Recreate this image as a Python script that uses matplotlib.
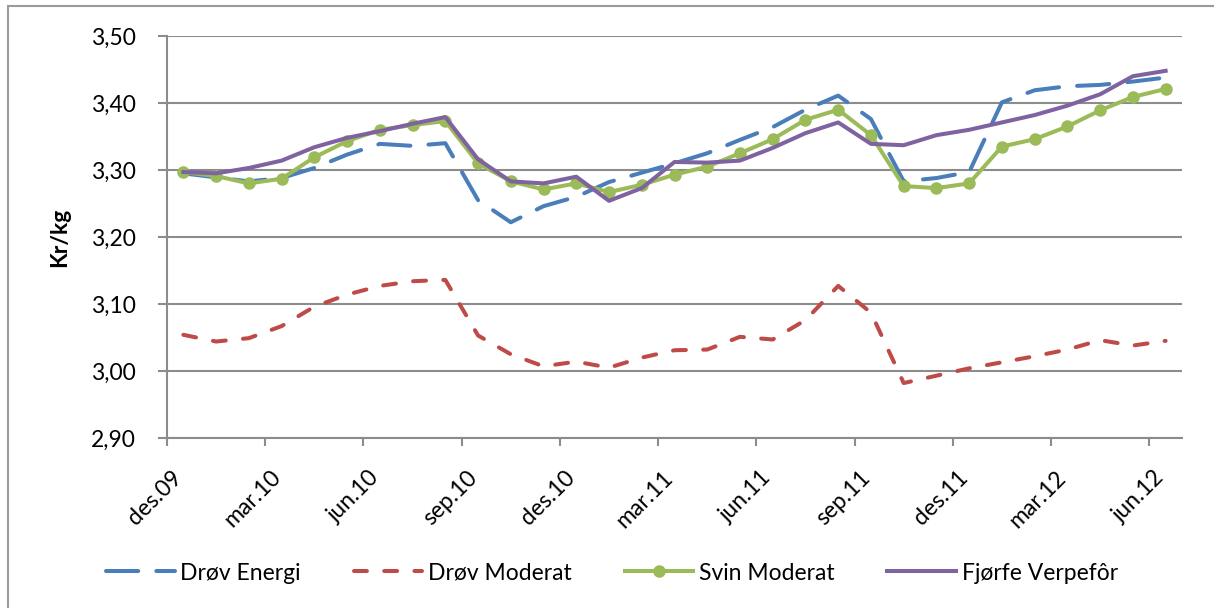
import matplotlib
matplotlib.use('Agg')
import matplotlib.pyplot as plt
import matplotlib.transforms as mtransforms
from matplotlib.patches import Rectangle

plt.rcParams['font.family'] = ['Lato', 'DejaVu Sans']

# monthly prices des.09 - jun.12 (31 months)
tick_labels = ['des.09', 'mar.10', 'jun.10', 'sep.10', 'des.10', 'mar.11',
               'jun.11', 'sep.11', 'des.11', 'mar.12', 'jun.12']

drov_energi = [3.295, 3.289, 3.283, 3.288, 3.303, 3.323, 3.339, 3.336, 3.340, 3.255,
               3.222, 3.246, 3.260, 3.282, 3.296, 3.310, 3.325, 3.345, 3.364, 3.390,
               3.411, 3.376, 3.283, 3.288, 3.297, 3.401, 3.419, 3.425, 3.427, 3.432,
               3.438]
drov_moderat = [3.054, 3.044, 3.049, 3.067, 3.096, 3.114, 3.127, 3.134, 3.136, 3.053,
                3.025, 3.007, 3.014, 3.005, 3.020, 3.031, 3.032, 3.051, 3.047, 3.076,
                3.127, 3.087, 2.982, 2.993, 3.004, 3.013, 3.022, 3.032, 3.046, 3.038,
                3.045]
svin_moderat = [3.297, 3.291, 3.280, 3.287, 3.319, 3.343, 3.360, 3.367, 3.373, 3.310,
                3.283, 3.271, 3.280, 3.267, 3.278, 3.293, 3.305, 3.325, 3.346, 3.375,
                3.390, 3.352, 3.276, 3.273, 3.280, 3.335, 3.346, 3.365, 3.389, 3.409,
                3.421]
fjorfe_verpefor = [3.297, 3.295, 3.303, 3.314, 3.334, 3.348, 3.358, 3.369, 3.379, 3.316,
                   3.283, 3.280, 3.290, 3.254, 3.273, 3.312, 3.311, 3.314, 3.333, 3.355,
                   3.371, 3.339, 3.337, 3.352, 3.360, 3.371, 3.382, 3.396, 3.413, 3.440,
                   3.448]

W, H = 1214, 608
fig = plt.figure(figsize=(W / 100, H / 100), dpi=100)
ax = fig.add_axes([167 / W, (H - 438) / H, (1182 - 167) / W, (438 - 36) / H])

x = list(range(len(svin_moderat)))
lw = 2.9
ax.plot(x, drov_energi, color='#4A7EBB', lw=lw, dashes=(8, 4.5),
        dash_capstyle='round', label='Drøv Energi')
ax.plot(x, drov_moderat, color='#BE4B48', lw=lw, dashes=(3.2, 4.3),
        dash_capstyle='round', label='Drøv Moderat')
ax.plot(x, svin_moderat, color='#9BBB59', lw=lw, marker='o', markersize=8,
        label='Svin Moderat')
ax.plot(x, fjorfe_verpefor, color='#7F63A1', lw=lw, label='Fjørfe Verpefôr')

grid_c = '#8c8c8c'
ax.set_xlim(-0.5, len(x) - 0.5)
ax.set_ylim(2.9, 3.5)
yt = [2.9 + 0.1 * i for i in range(7)]
ax.set_yticks(yt, [f'{v:.2f}'.replace('.', ',') for v in yt])
ax.yaxis.grid(True, color=grid_c, lw=1.5)
ax.set_axisbelow(True)
for s in ['top', 'right']:
    ax.spines[s].set_visible(False)
for s in ['left', 'bottom']:
    ax.spines[s].set_color(grid_c)
    ax.spines[s].set_linewidth(1.5)

ax.tick_params(axis='y', length=6.5, width=1.5, color=grid_c, pad=16, labelsize=16.5)
ax.tick_params(axis='x', length=6, width=1.5, color=grid_c, pad=20, labelsize=16.5)
ax.set_xticks([i - 0.5 for i in range(0, len(x), 3)], tick_labels,
              rotation=45, ha='right', va='center', rotation_mode='anchor')
off = mtransforms.ScaledTranslation(0.12, 0, fig.dpi_scale_trans)
for lab in ax.get_xticklabels():
    lab.set_transform(lab.get_transform() + off)

fig.text(60 / W, 1 - 237 / H, 'Kr/kg', rotation=90, fontsize=16.5,
         fontweight='bold', ha='center', va='center')

fig.legend(loc='center', bbox_to_anchor=(612 / W, 1 - 573 / H), ncol=4,
           frameon=False, fontsize=16.5, handlelength=3.0, handletextpad=0.25,
           columnspacing=2.3)

fig.patches.append(Rectangle((8, -20), W + 20, H - 6 + 20, transform=None,
                             fill=False, edgecolor='#9a9a9a', lw=1.5))

fig.savefig('out.png', dpi=100)
